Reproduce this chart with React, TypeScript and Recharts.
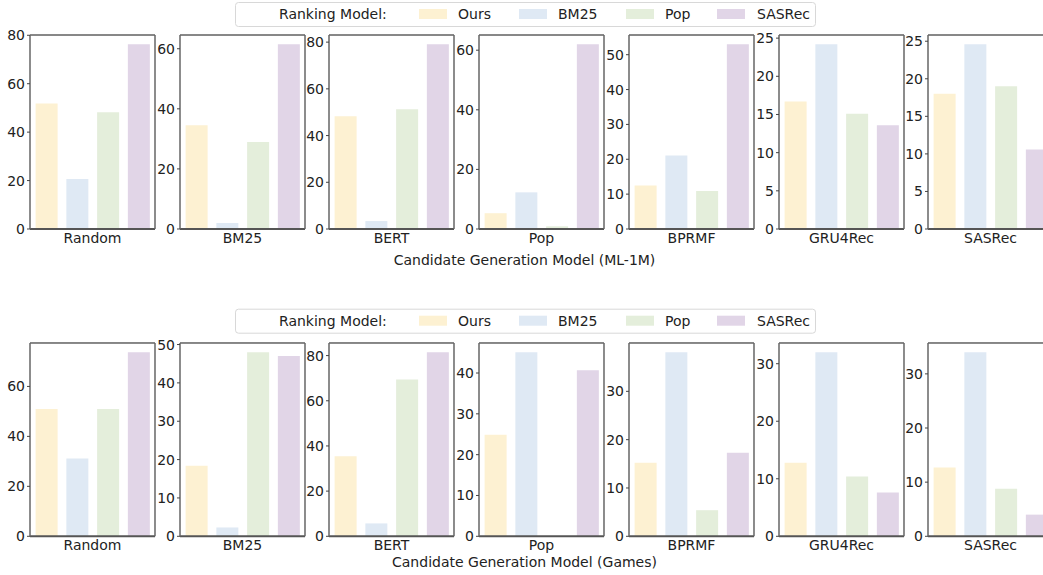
import { BarChart, Bar, XAxis, YAxis, Cell } from 'recharts';

const rankingModels = ['Ours', 'BM25', 'Pop', 'SASRec'];
const candidateModels = ['Random', 'BM25', 'BERT', 'Pop', 'BPRMF', 'GRU4Rec', 'SASRec'];

// ML-1M, one value per candidate generation model
const ml1mOurs = [51.8, 34.5, 48.3, 5.3, 12.5, 16.7, 18.0];
const ml1mBM25 = [20.6, 2.0, 3.4, 12.3, 21.1, 24.2, 24.6];
const ml1mPop = [48.2, 29.0, 51.3, 0.9, 10.9, 15.1, 19.0];
const ml1mSASRec = [76.3, 61.5, 79.1, 62.0, 53.0, 13.6, 10.6];

// Games
const gamesOurs = [51.0, 18.4, 35.4, 24.9, 15.2, 12.8, 12.7];
const gamesBM25 = [31.1, 2.3, 5.7, 45.1, 38.1, 32.0, 34.0];
const gamesPop = [51.0, 48.0, 69.4, 0, 5.4, 10.4, 8.8];
const gamesSASRec = [73.7, 47.0, 81.5, 40.7, 17.3, 7.6, 4.0];

const ml1mTicks = [
  [0, 20, 40, 60, 80],
  [0, 20, 40, 60],
  [0, 20, 40, 60, 80],
  [0, 20, 40, 60],
  [0, 10, 20, 30, 40, 50],
  [0, 5, 10, 15, 20, 25],
  [0, 5, 10, 15, 20, 25],
];
const gamesTicks = [
  [0, 20, 40, 60],
  [0, 10, 20, 30, 40, 50],
  [0, 20, 40, 60, 80],
  [0, 10, 20, 30, 40],
  [0, 10, 20, 30],
  [0, 10, 20, 30],
  [0, 10, 20, 30],
];

const colors = ['#fdf1d2', '#dfe9f4', '#e4eedb', '#e1d5e7'];
const FONT = '"DejaVu Sans", sans-serif';
const FS = 14;

function Panel({ left, top, plotH, name, values, ticks }: any) {
  const data = rankingModels.map((m, i) => ({ model: m, value: values[i] }));
  return (
    <div style={{ position: 'absolute', left, top }}>
      <BarChart
        width={158}
        height={8 + plotH + 22}
        data={data}
        margin={{ top: 7, right: 2, left: 0, bottom: 0 }}
        barCategoryGap="15%"
      >
        <XAxis
          dataKey="model"
          height={22}
          tick={false}
          tickLine={false}
          padding={{ left: 1, right: 1 }}
          axisLine={{ stroke: '#555', strokeWidth: 2 }}
          label={{ value: name, position: 'insideTop', offset: 4, fill: '#222', fontSize: FS, fontFamily: FONT }}
        />
        <XAxis xAxisId="top" dataKey="model" orientation="top" height={1} tick={false} tickLine={false} axisLine={{ stroke: '#111', strokeWidth: 1 }} />
        <YAxis
          width={30}
          domain={[0, (dataMax: number) => dataMax * 1.05]}
          ticks={ticks}
          interval={0}
          tickSize={3}
          tickMargin={2}
          tickLine={{ stroke: '#444' }}
          axisLine={{ stroke: '#666', strokeWidth: 1.5 }}
          tick={{ fill: '#222', fontSize: FS, fontFamily: FONT }}
        />
        <YAxis yAxisId="right" orientation="right" width={1} tick={false} tickLine={false} axisLine={{ stroke: '#666', strokeWidth: 1.5 }} />
        <Bar dataKey="value" isAnimationActive={false}>
          {data.map((d, i) => (
            <Cell key={d.model} fill={colors[i]} />
          ))}
        </Bar>
      </BarChart>
    </div>
  );
}

function Legend({ y }: { y: number }) {
  const swatchX = [419, 519, 626, 717];
  const textX = [458, 558, 665, 757];
  return (
    <g transform={`translate(0, ${y})`}>
      <rect x={235.5} y={2.5} width={580} height={24} rx={3} fill="#fff" stroke="#d8d8d8" />
      <text x={279} y={19} fontSize={FS} fill="#222">Ranking Model:</text>
      {rankingModels.map((m, i) => (
        <g key={m}>
          <rect x={swatchX[i]} y={9} width={28} height={10} fill={colors[i]} />
          <text x={textX[i]} y={19} fontSize={FS} fill="#222">{m}</text>
        </g>
      ))}
    </g>
  );
}

export default function App() {
  const rows = [
    { top: 35, plotH: 194, series: [ml1mOurs, ml1mBM25, ml1mPop, ml1mSASRec], ticks: ml1mTicks },
    { top: 342.7, plotH: 193.3, series: [gamesOurs, gamesBM25, gamesPop, gamesSASRec], ticks: gamesTicks },
  ];
  return (
    <div style={{ position: 'absolute', left: 0, top: 0, width: 1043, height: 575, overflow: 'hidden', background: '#fff', fontFamily: FONT }}>
      {rows.map((row, r) =>
        candidateModels.map((name, i) => (
          <Panel
            key={`${r}-${name}`}
            left={149.7 * i}
            top={row.top - 8}
            plotH={row.plotH}
            name={name}
            values={row.series.map((s) => s[i])}
            ticks={row.ticks[i]}
          />
        ))
      )}
      <svg width={1043} height={575} style={{ position: 'absolute', left: 0, top: 0, pointerEvents: 'none' }} fontFamily={FONT}>
        <Legend y={0} />
        <Legend y={306.7} />
        <text x={524.5} y={264.5} textAnchor="middle" fontSize={FS} fill="#222">Candidate Generation Model (ML-1M)</text>
        <text x={524.5} y={566.5} textAnchor="middle" fontSize={FS} fill="#222">Candidate Generation Model (Games)</text>
      </svg>
    </div>
  );
}
